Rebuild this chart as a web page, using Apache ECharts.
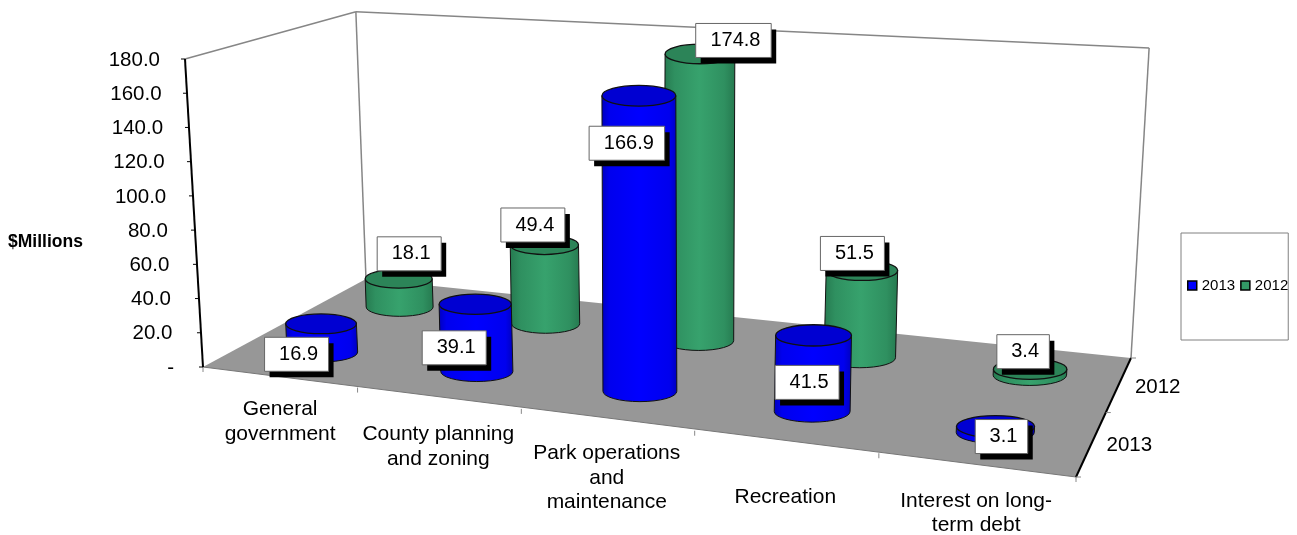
<!DOCTYPE html>
<html>
<head>
<meta charset="utf-8">
<style>html,body{margin:0;padding:0;background:#fff}#c{width:1297px;height:535px}</style>
<script src="https://cdn.jsdelivr.net/npm/echarts@6/dist/echarts.min.js"></script>
</head>
<body>
<div id="c"></div>
<script>
// ---- data ----
const categories = ['General\ngovernment', 'County planning\nand zoning', 'Park operations\nand\nmaintenance', 'Recreation', 'Interest on long-\nterm debt'];
const values2013 = [16.9, 39.1, 166.9, 41.5, 3.1];
const values2012 = [18.1, 49.4, 174.8, 51.5, 3.4];
const yTicks = [0, 20, 40, 60, 80, 100, 120, 140, 160, 180];
const depthSeries = ['2013', '2012'];

// ---- layout of the drawn 3D box ----
const FLOOR = { A: [203, 367], B: [1076, 477], C: [1131, 358], D: [366, 279] };
const LABEL_OFFSET_2013 = [[-24.5, 30.5], [-21, 43.5], [-12, 47.5], [-6.5, 47], [6, 10]];
const LABEL_OFFSET_2012 = [[10.5, -25], [-11.5, -20], [33.5, -13.5], [-9.5, -17], [-7, -17.5]];
const CAT_LABEL_OFFSET = [[1, 20], [0, 24], [0, 21.5], [0, 43], [0.5, 24]];
const DEPTH_LABEL_OFFSET = [[15, 2], [16, 3]];
const FONT = '"Liberation Sans", Arial, sans-serif';
const RADIUS = 36, RADIUS_POW = 0.75, FLATTEN = 0.28, LEAN_X = 667, LEAN_K = 1.26e-4;
const WARP_X = 5, WARP_Y = 2.5, WARP_K = 0.008, AXIS_LABEL_SLANT = 14;
const NU = categories.length, NV = depthSeries.length;

// Homography (u,v) on the floor -> pixels, from the four corners of the floor
function solveHomography() {
  const [x0, y0] = FLOOR.A, [x1, y1] = FLOOR.B, [x2, y2] = FLOOR.C, [x3, y3] = FLOOR.D;
  const dx1 = x1 - x2, dx2 = x3 - x2, sx = x0 - x1 + x2 - x3;
  const dy1 = y1 - y2, dy2 = y3 - y2, sy = y0 - y1 + y2 - y3;
  const det = dx1 * dy2 - dx2 * dy1;
  const g = (sx * dy2 - dx2 * sy) / det, h = (dx1 * sy - sx * dy1) / det;
  return { a: x1 - x0 + g * x1, b: x3 - x0 + h * x3, c: x0, d: y1 - y0 + g * y1, e: y3 - y0 + h * y3, f: y0, g, h };
}
const HOM = solveHomography();
function floorPoint(u, v) {
  const s = u / NU, t = v / NV, w = HOM.g * s + HOM.h * t + 1, bend = Math.sin(Math.PI * s);
  return {
    x: (HOM.a * s + HOM.b * t + HOM.c) / w + WARP_X * bend,
    y: (HOM.d * s + HOM.e * t + HOM.f) / w + WARP_Y * bend,
    k: (1 - WARP_K * bend) / w
  };
}
function project(api, u, v, value) {
  const p = floorPoint(u, v);
  const dy = (api.coord([0, 0])[1] - api.coord([0, value])[1]) * p.k;
  return { x: p.x + (p.x - LEAN_X) * LEAN_K * dy, y: p.y - dy, k: p.k };
}
const pt = q => [q.x, q.y];
const maxTick = yTicks[yTicks.length - 1];

function cylinderRender(depth, bodyStops, topColor) {
  return function (params, api) {
    const i = api.value(0), val = api.value(1);
    const b = project(api, i + .5, depth + .5, 0), t = project(api, i + .5, depth + .5, val);
    const rx = RADIUS * Math.pow(b.k, RADIUS_POW), ry = rx * FLATTEN;
    const body = `M ${b.x - rx} ${b.y} A ${rx} ${ry} 0 0 0 ${b.x + rx} ${b.y} L ${t.x + rx} ${t.y} L ${t.x - rx} ${t.y} Z`;
    return { type: 'group', children: [
      { type: 'path', shape: { pathData: body }, style: {
          fill: new echarts.graphic.LinearGradient(0, 0, 1, 0, bodyStops), lineWidth: 0 } },
      { type: 'path', shape: { pathData: body }, style: { fill: 'none', stroke: '#111', lineWidth: 1 } },
      { type: 'ellipse', shape: { cx: t.x, cy: t.y, rx: rx, ry: ry }, style: { fill: topColor, stroke: '#111', lineWidth: 1.3 } }
    ] };
  };
}
const BLUE_STOPS = [{ offset: 0, color: '#0000c0' }, { offset: .1, color: '#0000ee' }, { offset: .5, color: '#0000ff' }, { offset: .9, color: '#0000ee' }, { offset: 1, color: '#0000c0' }];
const GREEN_STOPS = [{ offset: 0, color: '#267a50' }, { offset: .15, color: '#2f9060' }, { offset: .5, color: '#37a26d' }, { offset: .85, color: '#2f9060' }, { offset: 1, color: '#267a50' }];

function renderFrame(params, api) {
  const A = project(api, 0, 0, 0), B = project(api, NU, 0, 0), C = project(api, NU, NV, 0), D = project(api, 0, NV, 0);
  const A2 = project(api, 0, 0, maxTick), C2 = project(api, NU, NV, maxTick), D2 = project(api, 0, NV, maxTick);
  const line = (a, b, color, w) => ({ type: 'line', shape: { x1: a.x, y1: a.y, x2: b.x, y2: b.y }, style: { stroke: color, lineWidth: w } });
  const children = [
    { type: 'polygon', shape: { points: [pt(A), pt(B), pt(C), pt(D)] }, style: { fill: '#979797' } },
    line(A2, D2, '#868686', 1.5), line(D2, C2, '#868686', 1.5), line(D2, D, '#868686', 1.5), line(C2, C, '#868686', 1.5),
    line(A, B, '#777', 1), line(B, C, '#000', 2), line(A, A2, '#000', 2)
  ];
  for (let u = 0; u <= NU; u++) {
    const p = project(api, u, 0, 0);
    children.push({ type: 'line', shape: { x1: p.x, y1: p.y, x2: p.x, y2: p.y + 5 }, style: { stroke: '#888', lineWidth: 1 } });
  }
  for (let v = 0; v <= NV; v++) {
    const p = project(api, NU, v, 0);
    children.push({ type: 'line', shape: { x1: p.x, y1: p.y, x2: p.x + 5, y2: p.y }, style: { stroke: '#888', lineWidth: 1 } });
  }
  depthSeries.forEach((name, v) => {
    const p = project(api, NU, v + .5, 0), o = DEPTH_LABEL_OFFSET[v];
    children.push({ type: 'text', x: p.x + o[0], y: p.y + o[1], style: { text: name, font: '20.5px ' + FONT, fill: '#000', textAlign: 'left', textVerticalAlign: 'middle' } });
  });
  return { type: 'group', children };
}
function renderYTick(params, api) {
  const p = project(api, 0, 0, api.value(1));
  return { type: 'line', shape: { x1: p.x - 4, y1: p.y, x2: p.x, y2: p.y }, style: { stroke: '#000', lineWidth: 1 } };
}
function renderCatLabel(params, api) {
  const i = api.value(0), p = project(api, i + .5, 0, 0), o = CAT_LABEL_OFFSET[i];
  return { type: 'text', x: p.x + o[0], y: p.y + o[1], style: { text: categories[i], font: '21px ' + FONT, fill: '#000', lineHeight: 24.5, textAlign: 'center', textVerticalAlign: 'top' } };
}
function renderValueLabel(params, api) {
  const i = api.value(0), val = api.value(1), depth = api.value(2);
  const t = project(api, i + .5, depth + .5, val);
  const o = (depth === 0 ? LABEL_OFFSET_2013 : LABEL_OFFSET_2012)[i];
  const text = String(val), w = 11.5 * text.length + 18, h = 34;
  const x = t.x + o[0] - w / 2, y = t.y + o[1] - h / 2;
  return { type: 'group', children: [
    { type: 'rect', shape: { x: x + 5, y: y + 6, width: w, height: h }, style: { fill: '#000' } },
    { type: 'rect', shape: { x: x, y: y, width: w, height: h }, style: { fill: '#fff', stroke: '#666', lineWidth: 1 } },
    { type: 'text', x: x + w / 2 + 2, y: y + h / 2, style: { text, font: '20px ' + FONT, fill: '#000', textAlign: 'center', textVerticalAlign: 'middle' } }
  ] };
}

const valueLabelData = [];
values2013.forEach((v, i) => valueLabelData.push([i, v, 0]));
values2012.forEach((v, i) => valueLabelData.push([i, v, 1]));
const common = { type: 'custom', clip: false, silent: true, coordinateSystem: 'cartesian2d' };

// The value labels follow the slanted axis, so each one gets its own right padding
const tickRich = {};
yTicks.forEach(t => {
  tickRich['t' + t] = { fontFamily: FONT, fontSize: 20.5, color: '#000', padding: [0, AXIS_LABEL_SLANT * t / maxTick, 0, 0] };
});

const chart = echarts.init(document.getElementById('c'), null, { renderer: 'canvas' });
chart.setOption({
  animation: false,
  backgroundColor: '#fff',
  title: { text: '$Millions', left: 8, top: 233, padding: 0, textStyle: { fontFamily: FONT, fontSize: 17.5, fontWeight: 'bold', color: '#000' } },
  legend: {
    data: [
      { name: '2013', icon: 'rect', itemStyle: { color: '#0000ff', borderColor: '#000', borderWidth: 1.5 } },
      { name: '2012', icon: 'rect', itemStyle: { color: '#339966', borderColor: '#000', borderWidth: 1.5 } }
    ],
    left: 1181, top: 233, orient: 'horizontal',
    padding: [45, 0, 47, 6], itemWidth: 9, itemHeight: 9, itemGap: 5,
    backgroundColor: '#fff', borderColor: '#808080', borderWidth: 1,
    selectedMode: false,
    textStyle: { fontFamily: FONT, fontSize: 15, color: '#000' }
  },
  grid: { left: 182, right: 115, top: 60, bottom: 167, containLabel: false },
  xAxis: { type: 'category', data: categories, show: false },
  yAxis: {
    type: 'value', min: 0, max: maxTick, interval: 20,
    axisLine: { show: false }, axisTick: { show: false }, splitLine: { show: false },
    axisLabel: {
      margin: 8, fontFamily: FONT, fontSize: 20.5, color: '#000',
      formatter: v => '{t' + v + '|' + (v === 0 ? '-' : v.toFixed(1)) + '}',
      rich: tickRich
    }
  },
  series: [
    Object.assign({}, common, { name: 'frame', z: 1, data: [[0, 0]], renderItem: renderFrame }),
    Object.assign({}, common, { name: 'yticks', z: 2, data: yTicks.map(t => [0, t]), renderItem: renderYTick }),
    Object.assign({}, common, { name: 'catlabels', z: 2, data: categories.map((c, i) => [i, 0]), renderItem: renderCatLabel }),
    Object.assign({}, common, { name: '2012', z: 3, itemStyle: { color: '#339966' }, data: values2012.map((v, i) => [i, v]), renderItem: cylinderRender(1, GREEN_STOPS, '#2c8458') }),
    Object.assign({}, common, { name: '2013', z: 4, itemStyle: { color: '#0000ff' }, data: values2013.map((v, i) => [i, v]), renderItem: cylinderRender(0, BLUE_STOPS, '#0000d2') }),
    Object.assign({}, common, { name: 'labels', z: 5, data: valueLabelData, renderItem: renderValueLabel })
  ]
});
</script>
</body>
</html>
